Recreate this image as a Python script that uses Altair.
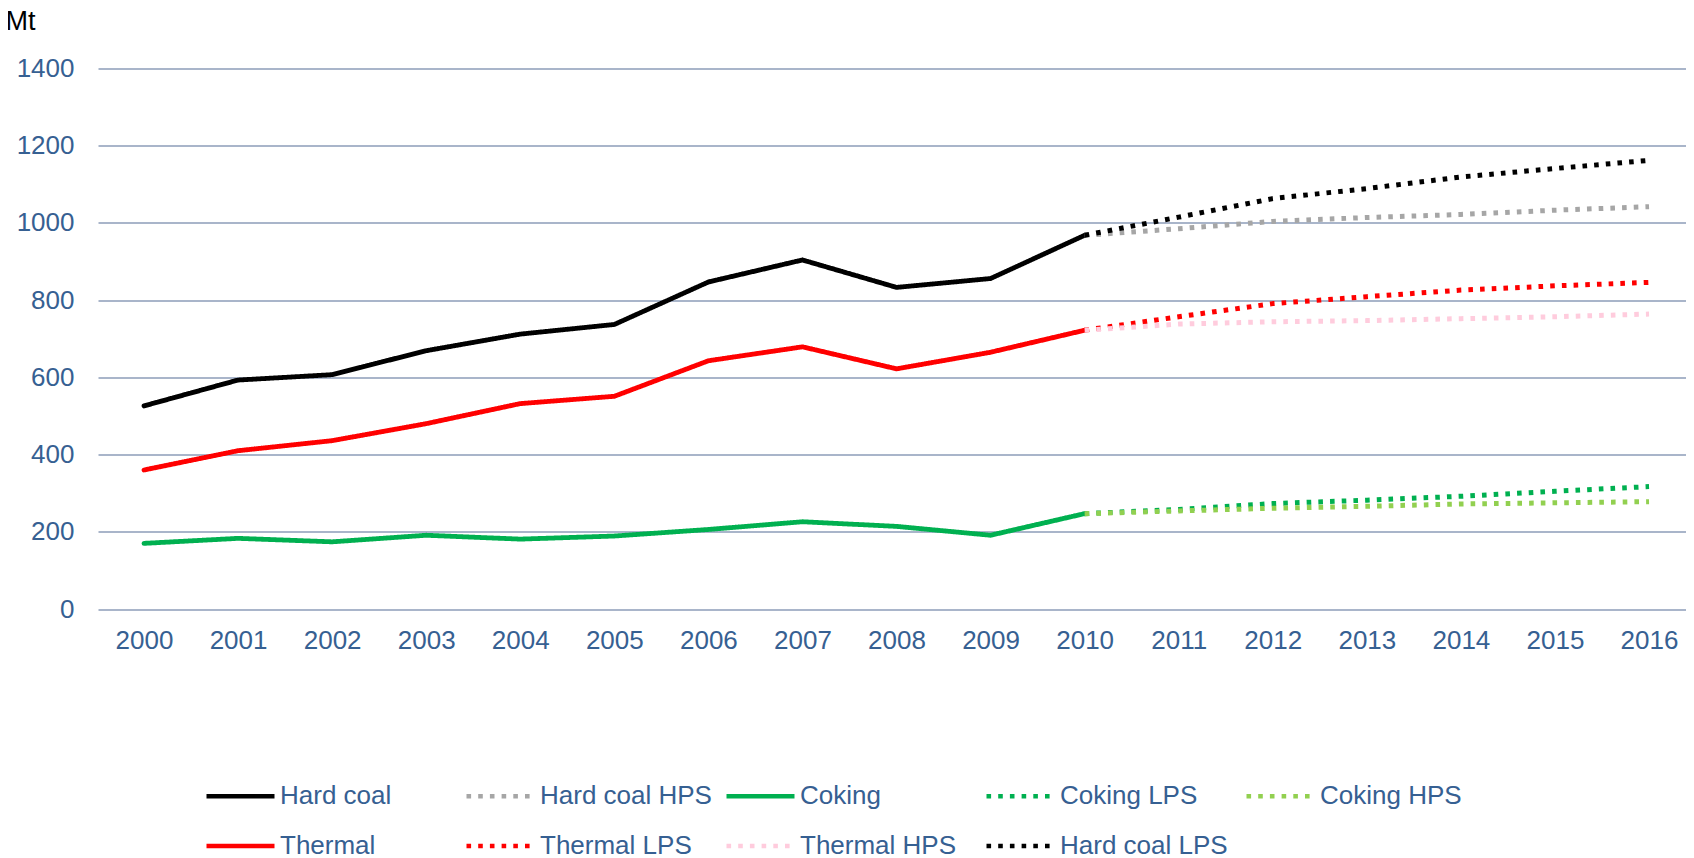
import altair as alt
import pandas as pd

# ---- data ----
years_hist = [2000, 2001, 2002, 2003, 2004, 2005, 2006, 2007, 2008, 2009, 2010]
hard_coal = [526, 593, 607, 669, 712, 737, 847, 904, 833, 856, 968]
thermal = [360, 410, 436, 480, 532, 551, 643, 679, 622, 665, 722]
coking = [170, 183, 174, 191, 181, 189, 206, 226, 214, 191, 247]

years_fc = [2010, 2011, 2012, 2013, 2014, 2015, 2016]
hard_coal_hps = [968, 985, 1004, 1014, 1022, 1033, 1042]
coking_lps = [247, 258, 273, 282, 292, 305, 317]
coking_hps = [247, 254, 261, 266, 272, 275, 278]
thermal_lps = [722, 757, 791, 809, 826, 837, 846]
thermal_hps = [722, 738, 744, 747, 752, 757, 764]
hard_coal_lps = [968, 1015, 1063, 1089, 1119, 1141, 1162]

x_ticks = list(range(2000, 2017))
y_ticks = [0, 200, 400, 600, 800, 1000, 1200, 1400]

series_order = ["Hard coal", "Hard coal HPS", "Coking", "Coking LPS", "Coking HPS",
                "Thermal", "Thermal LPS", "Thermal HPS", "Hard coal LPS"]
series_colors = ["#000000", "#A6A6A6", "#00B050", "#00B050", "#92D050",
                 "#FF0000", "#FF0000", "#FFCCDD", "#000000"]
SOLID = [1, 0]
DOT = [4.6, 7.1]
series_dash = [SOLID, DOT, SOLID, DOT, DOT, SOLID, DOT, DOT, DOT]

solid_series = {"Hard coal": hard_coal, "Coking": coking, "Thermal": thermal}
dotted_series = {"Hard coal HPS": hard_coal_hps, "Coking LPS": coking_lps,
                 "Coking HPS": coking_hps, "Thermal LPS": thermal_lps,
                 "Thermal HPS": thermal_hps, "Hard coal LPS": hard_coal_lps}

solid_rows, dotted_rows = [], []
for name in series_order:
    if name in solid_series:
        for y, v in zip(years_hist, solid_series[name]):
            solid_rows.append({"series": name, "year": y, "value": v})
    else:
        for y, v in zip(years_fc, dotted_series[name]):
            dotted_rows.append({"series": name, "year": y, "value": v})
df_solid = pd.DataFrame(solid_rows)
df_dot = pd.DataFrame(dotted_rows)

FONT = "Liberation Sans"
LABEL = "#366092"

legend = alt.Legend(title=None, orient="none", direction="horizontal",
                    legendX=106, legendY=691,
                    columns=5, symbolType="stroke", symbolSize=4624,
                    symbolStrokeWidth=4.6, labelFont=FONT, labelFontSize=26,
                    labelColor=LABEL, labelOffset=3, columnPadding=5,
                    rowPadding=0, gridAlign="all", labelLimit=400)

x_enc = alt.X("year:Q",
              scale=alt.Scale(domain=[1999.511, 2016.393], nice=False, zero=False),
              axis=alt.Axis(values=x_ticks, format="d", labelFont=FONT,
                            labelFontSize=26, labelColor=LABEL, labelPadding=18,
                            domain=False, ticks=False, grid=False, title=None,
                            labelFlush=False, labelOverlap=False))
y_enc = alt.Y("value:Q",
              scale=alt.Scale(domain=[0, 1400], nice=False),
              axis=alt.Axis(values=y_ticks, format="d", labelFont=FONT,
                            labelFontSize=26, labelColor=LABEL, labelPadding=24,
                            domain=False, ticks=False, grid=True,
                            gridColor="#8C9DB8", gridWidth=1.6, title="Mt",
                            titleAngle=0, titleAlign="left",
                            titleBaseline="alphabetic", titleX=-93, titleY=-39.5,
                            titleFont=FONT, titleFontSize=27,
                            titleFontWeight="normal", titleColor="#000000"))
color_enc = alt.Color("series:N",
                      scale=alt.Scale(domain=series_order, range=series_colors),
                      legend=legend)
dash_enc = alt.StrokeDash("series:N",
                          scale=alt.Scale(domain=series_order, range=series_dash),
                          legend=legend)

solid = alt.Chart(df_solid).mark_line(strokeWidth=4.8, strokeCap="round",
                                      strokeJoin="round").encode(
    x=x_enc, y=y_enc, color=color_enc, strokeDash=dash_enc,
    detail="series:N", order="year:Q")
dotted = alt.Chart(df_dot).mark_line(strokeWidth=5, strokeCap="butt",
                                     strokeJoin="round").encode(
    x=x_enc, y=y_enc, color=color_enc, strokeDash=dash_enc,
    detail="series:N", order="year:Q")

chart = alt.layer(solid, dotted).properties(
    width=1588, height=540.5,
    autosize=alt.AutoSizeParams(type="none"),
    padding={"left": 90, "top": 60.5, "right": 0, "bottom": 247},
    background="#FFFFFF",
).configure_view(stroke=None)

chart.save("out.html", embed_options={"renderer": "svg", "actions": False})
